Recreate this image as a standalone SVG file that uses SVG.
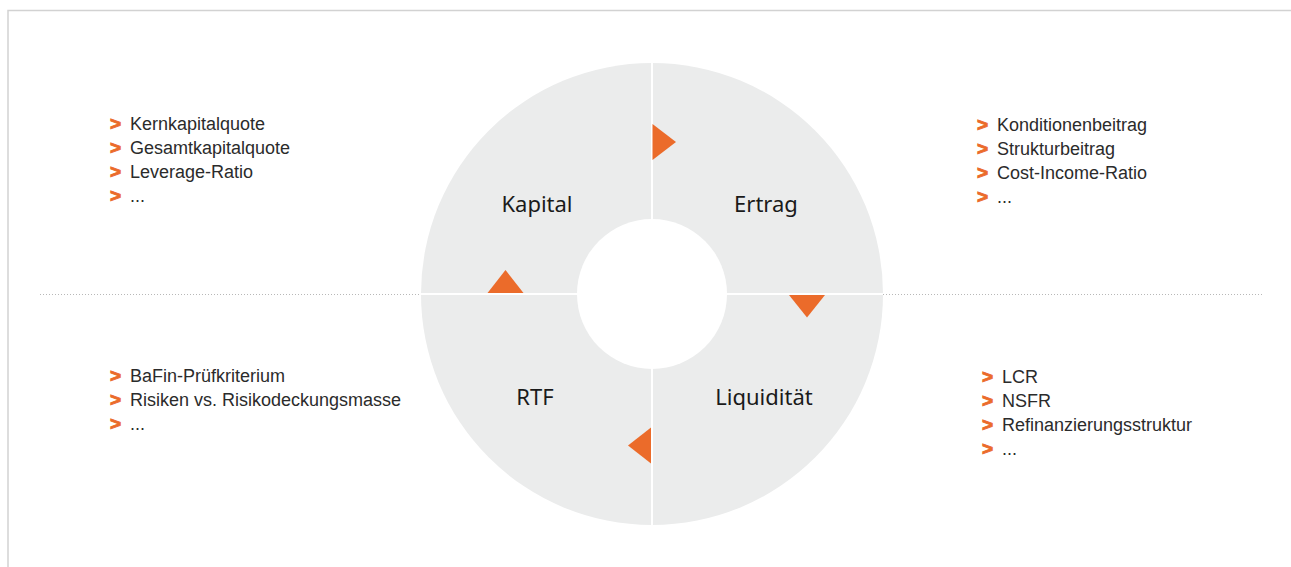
<svg xmlns="http://www.w3.org/2000/svg" width="1291" height="567" viewBox="0 0 1291 567">
  <style>
    .seg { fill: #ebecec; }
    .divider { stroke: #ffffff; stroke-width: 2; fill: none; }
    .arrow { fill: #eb6b2a; }
    .label { font-family: "Noto Sans", "Liberation Sans", sans-serif; font-size: 22px; fill: #1a1a1a; text-anchor: middle; }
    .item { font-family: "Liberation Sans", Arial, sans-serif; font-size: 18px; fill: #2b2b2b; }
    .bullet { font-family: "Liberation Sans", Arial, sans-serif; font-size: 19px; font-weight: bold; fill: #eb6b2a; stroke: #eb6b2a; stroke-width: 0.9; }
    .guide { stroke: #b8b8b8; stroke-width: 1; stroke-dasharray: 1 2; fill: none; }
  </style>

  <rect width="1291" height="567" fill="#ffffff"/>

  <!-- frame edges -->
  <path d="M8,567 V10.5 H1291" fill="none" stroke="#d2d2d2" stroke-width="1.5"/>

  <!-- dotted horizontal guide -->
  <g id="guides">
    <line class="guide" x1="40" y1="294.5" x2="421" y2="294.5"/>
    <line class="guide" x1="883" y1="294.5" x2="1263" y2="294.5"/>
  </g>

  <!-- ring -->
  <g id="ring">
    <circle class="seg" cx="652" cy="294" r="231"/>
    <circle cx="652" cy="294" r="75" fill="#ffffff"/>
    <line class="divider" x1="652" y1="63" x2="652" y2="219"/>
    <line class="divider" x1="652" y1="369" x2="652" y2="525"/>
    <line class="divider" x1="421" y1="294" x2="577" y2="294"/>
    <line class="divider" x1="727" y1="294" x2="883" y2="294"/>
  </g>

  <!-- quadrants -->
  <g id="kapital">
    <text class="label" x="537" y="212">Kapital</text>
  </g>
  <g id="ertrag">
    <text class="label" x="766" y="212">Ertrag</text>
  </g>
  <g id="liquiditaet">
    <text class="label" x="764" y="405">Liquidität</text>
  </g>
  <g id="rtf">
    <text class="label" x="535" y="405">RTF</text>
  </g>

  <!-- clockwise flow arrows -->
  <g id="connectors">
    <polygon class="arrow" points="652.5,124 676,142 652.5,160"/>
    <polygon class="arrow" points="789,295 825,295 807,317.5"/>
    <polygon class="arrow" points="651,427.5 651,463.5 628,445.5"/>
    <polygon class="arrow" points="487.5,293 523.5,293 505.5,270"/>
  </g>

  <!-- indicator lists -->
  <g id="list-kapital">
    <text class="bullet" x="110" y="130">&gt;</text>
    <text class="bullet" x="110" y="154">&gt;</text>
    <text class="bullet" x="110" y="178">&gt;</text>
    <text class="bullet" x="110" y="202">&gt;</text>
    <text class="item" x="130" y="130">Kernkapitalquote</text>
    <text class="item" x="130" y="154">Gesamtkapitalquote</text>
    <text class="item" x="130" y="178">Leverage-Ratio</text>
    <text class="item" x="130" y="202">...</text>
  </g>

  <g id="list-ertrag">
    <text class="bullet" x="977" y="131">&gt;</text>
    <text class="bullet" x="977" y="155">&gt;</text>
    <text class="bullet" x="977" y="179">&gt;</text>
    <text class="bullet" x="977" y="203">&gt;</text>
    <text class="item" x="997" y="131">Konditionenbeitrag</text>
    <text class="item" x="997" y="155">Strukturbeitrag</text>
    <text class="item" x="997" y="179">Cost-Income-Ratio</text>
    <text class="item" x="997" y="203">...</text>
  </g>

  <g id="list-rtf">
    <text class="bullet" x="110" y="382">&gt;</text>
    <text class="bullet" x="110" y="406">&gt;</text>
    <text class="bullet" x="110" y="430">&gt;</text>
    <text class="item" x="130" y="382">BaFin-Prüfkriterium</text>
    <text class="item" x="130" y="406">Risiken vs. Risikodeckungsmasse</text>
    <text class="item" x="130" y="430">...</text>
  </g>

  <g id="list-liquiditaet">
    <text class="bullet" x="982" y="383">&gt;</text>
    <text class="bullet" x="982" y="407">&gt;</text>
    <text class="bullet" x="982" y="431">&gt;</text>
    <text class="bullet" x="982" y="455">&gt;</text>
    <text class="item" x="1002" y="383">LCR</text>
    <text class="item" x="1002" y="407">NSFR</text>
    <text class="item" x="1002" y="431">Refinanzierungsstruktur</text>
    <text class="item" x="1002" y="455">...</text>
  </g>
</svg>
